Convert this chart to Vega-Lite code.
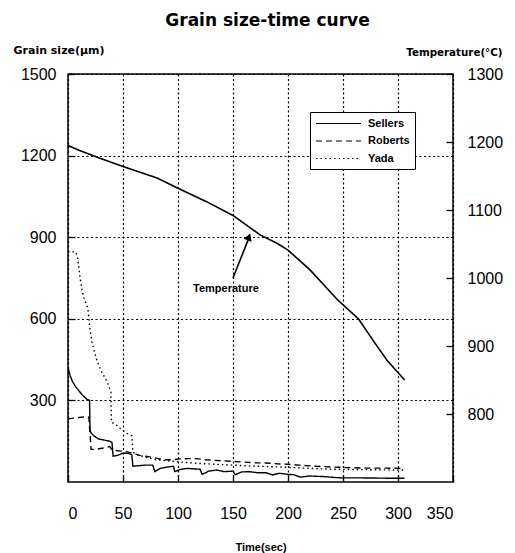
{
  "$schema": "https://vega.github.io/schema/vega-lite/v6.json",
  "width": 385,
  "height": 408,
  "autosize": {"type": "none"},
  "padding": {"left": 68, "top": 74, "right": 62, "bottom": 71},
  "background": "white",
  "title": {
    "text": "Grain size-time curve",
    "fontSize": 17,
    "font": "DejaVu Sans",
    "fontWeight": "bold",
    "anchor": "middle",
    "dx": 7,
    "offset": 14,
    "color": "black"
  },
  "config": {
    "view": {"stroke": "black", "strokeWidth": 1.5},
    "font": "Liberation Sans",
    "axis": {
      "labelFont": "Liberation Sans",
      "labelFontSize": 16,
      "labelColor": "black",
      "titleFont": "Liberation Sans",
      "titleFontSize": 11,
      "titleFontWeight": "bold",
      "titleColor": "black",
      "domainColor": "black",
      "tickColor": "black",
      "tickWidth": 1.3,
      "gridColor": "black",
      "gridOpacity": 1,
      "gridDash": [2, 2.5],
      "gridWidth": 1.2
    },
    "legend": {
      "labelFont": "Liberation Sans",
      "labelFontSize": 11,
      "labelFontWeight": "bold",
      "labelColor": "black"
    }
  },
  "datasets": {
    "grain": [
      {"model": "Sellers", "t": 0, "g": 420},
      {"model": "Sellers", "t": 2, "g": 390},
      {"model": "Sellers", "t": 4, "g": 370},
      {"model": "Sellers", "t": 7, "g": 350},
      {"model": "Sellers", "t": 10, "g": 335},
      {"model": "Sellers", "t": 13, "g": 320},
      {"model": "Sellers", "t": 17, "g": 305},
      {"model": "Sellers", "t": 19.6, "g": 300},
      {"model": "Sellers", "t": 20, "g": 190},
      {"model": "Sellers", "t": 21, "g": 180},
      {"model": "Sellers", "t": 24, "g": 168},
      {"model": "Sellers", "t": 28, "g": 158},
      {"model": "Sellers", "t": 33, "g": 154},
      {"model": "Sellers", "t": 38, "g": 150},
      {"model": "Sellers", "t": 40, "g": 145},
      {"model": "Sellers", "t": 41, "g": 95},
      {"model": "Sellers", "t": 45, "g": 98},
      {"model": "Sellers", "t": 50, "g": 106},
      {"model": "Sellers", "t": 55, "g": 105},
      {"model": "Sellers", "t": 58, "g": 100},
      {"model": "Sellers", "t": 59, "g": 58},
      {"model": "Sellers", "t": 64, "g": 60},
      {"model": "Sellers", "t": 70, "g": 62},
      {"model": "Sellers", "t": 77, "g": 62},
      {"model": "Sellers", "t": 79, "g": 38},
      {"model": "Sellers", "t": 84, "g": 50},
      {"model": "Sellers", "t": 90, "g": 55},
      {"model": "Sellers", "t": 96, "g": 58},
      {"model": "Sellers", "t": 97, "g": 38},
      {"model": "Sellers", "t": 102, "g": 46},
      {"model": "Sellers", "t": 108, "g": 50},
      {"model": "Sellers", "t": 115, "g": 48},
      {"model": "Sellers", "t": 120, "g": 47},
      {"model": "Sellers", "t": 122, "g": 28},
      {"model": "Sellers", "t": 128, "g": 40},
      {"model": "Sellers", "t": 135, "g": 44},
      {"model": "Sellers", "t": 142, "g": 38},
      {"model": "Sellers", "t": 150, "g": 40},
      {"model": "Sellers", "t": 152, "g": 27},
      {"model": "Sellers", "t": 158, "g": 37},
      {"model": "Sellers", "t": 165, "g": 38},
      {"model": "Sellers", "t": 172, "g": 34},
      {"model": "Sellers", "t": 180, "g": 34},
      {"model": "Sellers", "t": 186, "g": 26},
      {"model": "Sellers", "t": 192, "g": 32},
      {"model": "Sellers", "t": 200, "g": 28},
      {"model": "Sellers", "t": 205, "g": 27},
      {"model": "Sellers", "t": 211, "g": 18},
      {"model": "Sellers", "t": 220, "g": 22},
      {"model": "Sellers", "t": 232, "g": 20},
      {"model": "Sellers", "t": 238, "g": 18},
      {"model": "Sellers", "t": 245, "g": 16},
      {"model": "Sellers", "t": 250, "g": 15},
      {"model": "Sellers", "t": 268, "g": 15},
      {"model": "Sellers", "t": 290, "g": 14},
      {"model": "Sellers", "t": 306, "g": 14},
      {"model": "Roberts", "t": 0, "g": 232},
      {"model": "Roberts", "t": 5, "g": 235},
      {"model": "Roberts", "t": 10, "g": 237},
      {"model": "Roberts", "t": 17, "g": 240},
      {"model": "Roberts", "t": 19, "g": 238},
      {"model": "Roberts", "t": 21, "g": 120},
      {"model": "Roberts", "t": 25, "g": 120},
      {"model": "Roberts", "t": 32, "g": 125},
      {"model": "Roberts", "t": 38, "g": 130},
      {"model": "Roberts", "t": 40, "g": 118},
      {"model": "Roberts", "t": 45, "g": 115},
      {"model": "Roberts", "t": 52, "g": 112},
      {"model": "Roberts", "t": 60, "g": 105},
      {"model": "Roberts", "t": 65, "g": 98},
      {"model": "Roberts", "t": 72, "g": 94},
      {"model": "Roberts", "t": 80, "g": 88},
      {"model": "Roberts", "t": 86, "g": 82},
      {"model": "Roberts", "t": 95, "g": 82},
      {"model": "Roberts", "t": 102, "g": 85},
      {"model": "Roberts", "t": 110, "g": 86},
      {"model": "Roberts", "t": 117, "g": 86},
      {"model": "Roberts", "t": 125, "g": 82},
      {"model": "Roberts", "t": 132, "g": 80},
      {"model": "Roberts", "t": 140, "g": 78},
      {"model": "Roberts", "t": 150, "g": 76},
      {"model": "Roberts", "t": 160, "g": 73},
      {"model": "Roberts", "t": 170, "g": 71},
      {"model": "Roberts", "t": 180, "g": 70},
      {"model": "Roberts", "t": 190, "g": 67},
      {"model": "Roberts", "t": 200, "g": 65},
      {"model": "Roberts", "t": 210, "g": 62},
      {"model": "Roberts", "t": 225, "g": 58},
      {"model": "Roberts", "t": 240, "g": 55},
      {"model": "Roberts", "t": 255, "g": 53},
      {"model": "Roberts", "t": 270, "g": 51},
      {"model": "Roberts", "t": 290, "g": 51},
      {"model": "Roberts", "t": 306, "g": 50},
      {"model": "Yada", "t": 0, "g": 846},
      {"model": "Yada", "t": 7, "g": 846},
      {"model": "Yada", "t": 9, "g": 820},
      {"model": "Yada", "t": 11, "g": 750},
      {"model": "Yada", "t": 13, "g": 700},
      {"model": "Yada", "t": 15, "g": 670},
      {"model": "Yada", "t": 18, "g": 640},
      {"model": "Yada", "t": 20, "g": 560},
      {"model": "Yada", "t": 22, "g": 510},
      {"model": "Yada", "t": 26, "g": 450},
      {"model": "Yada", "t": 30, "g": 410},
      {"model": "Yada", "t": 36, "g": 365},
      {"model": "Yada", "t": 39, "g": 330},
      {"model": "Yada", "t": 39.5, "g": 220},
      {"model": "Yada", "t": 44, "g": 210},
      {"model": "Yada", "t": 48, "g": 195},
      {"model": "Yada", "t": 53, "g": 180},
      {"model": "Yada", "t": 58, "g": 170},
      {"model": "Yada", "t": 59, "g": 110},
      {"model": "Yada", "t": 63, "g": 100},
      {"model": "Yada", "t": 70, "g": 92},
      {"model": "Yada", "t": 80, "g": 82},
      {"model": "Yada", "t": 90, "g": 78},
      {"model": "Yada", "t": 100, "g": 74},
      {"model": "Yada", "t": 120, "g": 68},
      {"model": "Yada", "t": 140, "g": 64},
      {"model": "Yada", "t": 160, "g": 60},
      {"model": "Yada", "t": 180, "g": 57},
      {"model": "Yada", "t": 200, "g": 54},
      {"model": "Yada", "t": 220, "g": 50},
      {"model": "Yada", "t": 240, "g": 47},
      {"model": "Yada", "t": 260, "g": 46},
      {"model": "Yada", "t": 280, "g": 45},
      {"model": "Yada", "t": 306, "g": 44}
    ],
    "temp": [
      {"t": 0, "T": 1195},
      {"t": 10, "T": 1188},
      {"t": 26, "T": 1178},
      {"t": 50, "T": 1164},
      {"t": 81, "T": 1147},
      {"t": 100, "T": 1132},
      {"t": 125, "T": 1113},
      {"t": 150, "T": 1092},
      {"t": 175, "T": 1063},
      {"t": 190, "T": 1051},
      {"t": 200, "T": 1041},
      {"t": 220, "T": 1012},
      {"t": 245, "T": 968},
      {"t": 264, "T": 940},
      {"t": 280, "T": 902},
      {"t": 290, "T": 879},
      {"t": 306, "T": 850}
    ],
    "note": [
      {"t": 150, "g": 750, "t2": 164, "g2": 893, "head_t": 164.5, "head_g": 901, "label": "Temperature", "lt": 143.6, "lg": 710}
    ]
  },
  "layer": [
    {
      "data": {"name": "grain"},
      "mark": {"type": "line", "color": "black", "strokeWidth": 1.4, "clip": true},
      "encoding": {
        "x": {
          "field": "t", "type": "quantitative",
          "scale": {"domain": [0, 350], "nice": false},
          "axis": {
            "values": [0, 50, 100, 150, 200, 250, 300, 350],
            "format": "d",
            "grid": true, "tickSize": -7, "labelPadding": 30,
            "domain": false,
            "title": "Time(sec)", "titleY": 65, "titleBaseline": "middle"
          }
        },
        "y": {
          "field": "g", "type": "quantitative",
          "scale": {"domain": [0, 1500], "nice": false},
          "axis": {
            "values": [300, 600, 900, 1200, 1500],
            "format": "d",
            "grid": true, "tickSize": -7, "labelPadding": 19,
            "domain": false,
            "title": "Grain size(μm)", "titleAngle": 0, "titleAlign": "left",
            "titleX": -55, "titleY": -24, "titleBaseline": "middle",
            "titleFont": "DejaVu Sans", "titleFontSize": 11
          }
        },
        "strokeDash": {
          "field": "model", "type": "nominal",
          "scale": {"domain": ["Sellers", "Roberts", "Yada"], "range": [[1, 0], [6, 4], [1.5, 3]]},
          "legend": {
            "title": null, "orient": "none", "legendX": 242, "legendY": 38,
            "symbolType": "M-4,0H4", "symbolSize": 126.5, "symbolStrokeWidth": 1.2,
            "symbolStrokeColor": "black", "symbolOffset": 17,
            "strokeColor": "black", "fillColor": "white",
            "padding": 5, "rowPadding": 5.5, "labelOffset": 23
          }
        }
      }
    },
    {
      "data": {"name": "temp"},
      "mark": {"type": "line", "color": "black", "strokeWidth": 1.6},
      "encoding": {
        "x": {"field": "t", "type": "quantitative"},
        "y": {
          "field": "T", "type": "quantitative",
          "scale": {"domain": [700, 1300], "nice": false, "zero": false},
          "axis": {
            "orient": "right",
            "values": [800, 900, 1000, 1100, 1200, 1300],
            "format": "d",
            "grid": false, "tickSize": -7, "labelPadding": 21,
            "domain": false,
            "title": "Temperature(°C)", "titleAngle": 0, "titleAlign": "right",
            "titleX": 49, "titleY": -22, "titleBaseline": "middle",
            "titleFont": "DejaVu Sans", "titleFontSize": 10.3
          }
        }
      }
    },
    {
      "data": {"name": "note"},
      "mark": {"type": "rule", "color": "black", "strokeWidth": 1.6},
      "encoding": {
        "x": {"field": "t", "type": "quantitative"},
        "y": {"field": "g", "type": "quantitative", "scale": {"domain": [0, 1500], "nice": false}, "axis": null},
        "x2": {"field": "t2"},
        "y2": {"field": "g2"}
      }
    },
    {
      "data": {"name": "note"},
      "mark": {"type": "point", "shape": "triangle-up", "filled": true, "color": "black", "size": 70, "opacity": 1, "angle": 21},
      "encoding": {
        "x": {"field": "head_t", "type": "quantitative"},
        "y": {"field": "head_g", "type": "quantitative", "scale": {"domain": [0, 1500], "nice": false}, "axis": null}
      }
    },
    {
      "data": {"name": "note"},
      "mark": {"type": "text", "font": "Liberation Sans", "fontSize": 11, "fontWeight": "bold", "color": "black", "baseline": "middle", "align": "center"},
      "encoding": {
        "x": {"field": "lt", "type": "quantitative"},
        "y": {"field": "lg", "type": "quantitative", "scale": {"domain": [0, 1500], "nice": false}, "axis": null},
        "text": {"field": "label"}
      }
    }
  ],
  "resolve": {"scale": {"y": "independent"}}
}
